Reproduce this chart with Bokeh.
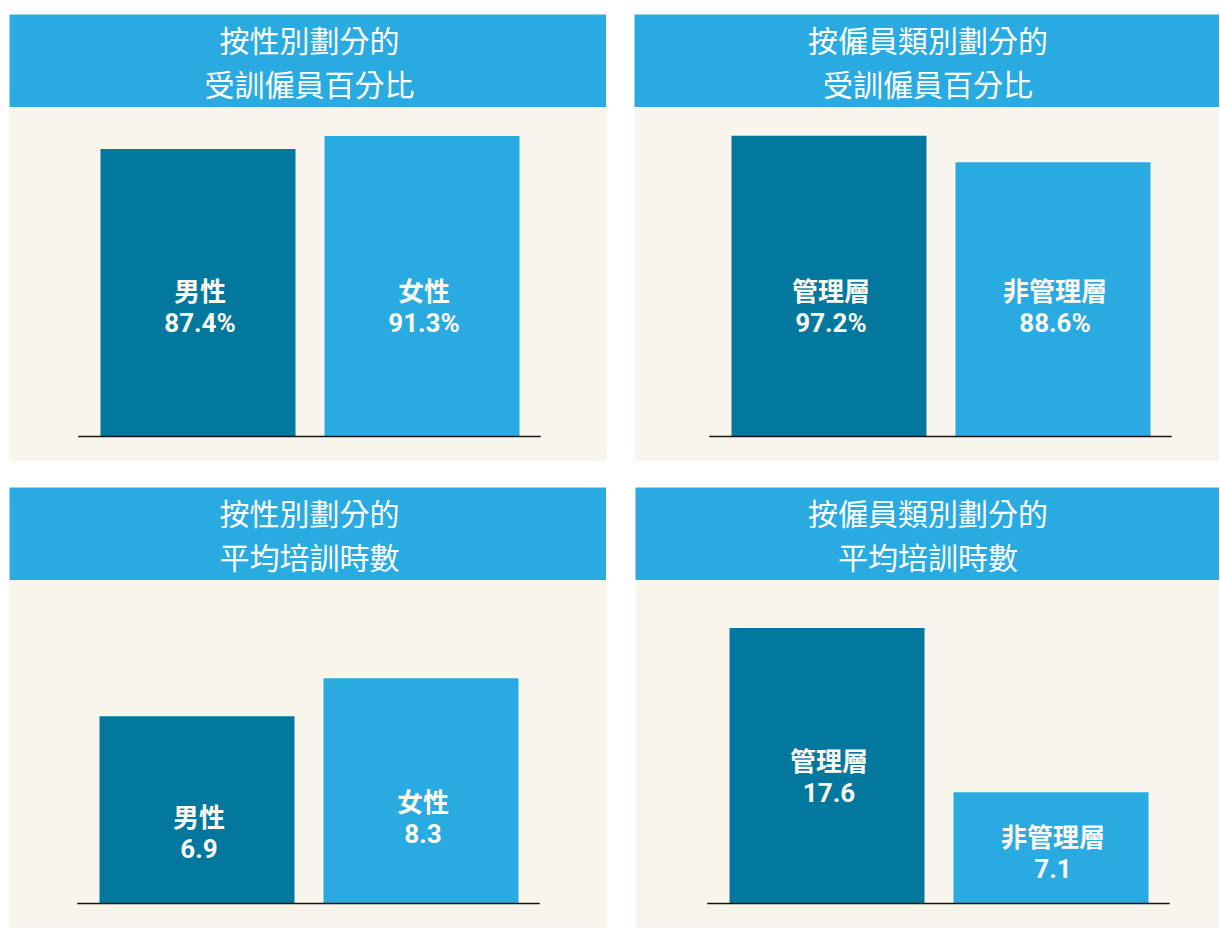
from bokeh.plotting import figure
from bokeh.layouts import column, row
from bokeh.models import Range1d, ColumnDataSource, Spacer
from bokeh.core.properties import value
from bokeh.embed import file_html
from bokeh.resources import INLINE

# ---------------- data ----------------
title_pct_gender = ["按性別劃分的", "受訓僱員百分比"]
title_pct_grade = ["按僱員類別劃分的", "受訓僱員百分比"]
title_hrs_gender = ["按性別劃分的", "平均培訓時數"]
title_hrs_grade = ["按僱員類別劃分的", "平均培訓時數"]

gender_cats = ["男性", "女性"]
grade_cats = ["管理層", "非管理層"]

pct_gender = [87.4, 91.3]
pct_grade = [97.2, 88.6]
hours_gender = [6.9, 8.3]
hours_grade = [17.6, 7.1]

# ---------------- style ----------------
BLUE = "#29ABE2"
DARK = "#02789E"
CREAM = "#F8F6EC"
BAR_COLORS = [DARK, BLUE]
LABEL_COLOR = "#FAF8F1"
CJK = "Noto Sans CJK TC"
NUM = "Roboto"
SPACING = 224.0  # px between bar centres


def header(lines, w, h, cx):
    p = figure(width=w, height=h, x_range=Range1d(0, w), y_range=Range1d(0, h),
               toolbar_location=None, output_backend="svg", min_border=0,
               x_axis_location=None, y_axis_location=None,
               background_fill_color=BLUE, border_fill_color=BLUE,
               outline_line_color=None)
    p.grid.visible = False
    p.text(x=[cx, cx], y=[h / 2 + 22, h / 2 - 22], text=lines,
           text_font=value(CJK), text_font_size="30px", text_color="white",
           text_align="center", text_baseline="middle")
    return p


def chart(cats, vals, fmt, w, h, c0, k, base_px, frac=None, fixed_px=None):
    xs = list(range(len(cats)))
    p = figure(width=w, height=h,
               x_range=Range1d(-c0 / SPACING, (w - c0) / SPACING),
               y_range=Range1d(-base_px / k, (h - base_px) / k),
               toolbar_location=None, output_backend="svg", min_border=0,
               x_axis_location=None, y_axis_location=None,
               background_fill_color=CREAM, border_fill_color=CREAM,
               outline_line_color=None)
    p.grid.visible = False
    if fixed_px is not None:
        mids = [fixed_px / k for _ in vals]
    else:
        mids = [v * frac for v in vals]
    src = ColumnDataSource(dict(
        x=xs, top=vals, color=BAR_COLORS[:len(vals)], cat=cats,
        lab=[fmt.format(v) for v in vals],
        yc=[m + 17.0 / k for m in mids],
        yv=[m - 16.0 / k for m in mids],
    ))
    p.vbar(x="x", top="top", bottom=0, width=195.0 / SPACING,
           fill_color="color", line_color=None, source=src)
    p.segment(x0=[-0.535], y0=[0], x1=[len(cats) - 1 + 0.53], y1=[0],
              line_color="#141414", line_width=1.6)
    p.text(x="x", y="yc", text="cat", source=src, text_font=value(CJK),
           text_font_style="bold", text_font_size="26px", text_color=LABEL_COLOR,
           text_align="center", text_baseline="middle", x_offset=2)
    p.text(x="x", y="yv", text="lab", source=src, text_font=value(NUM),
           text_font_style="bold", text_font_size="26px", text_color=LABEL_COLOR,
           text_align="center", text_baseline="middle", x_offset=2)
    return p


W_L, W_R = 597, 585
H_HEAD = 93
H_TOP, H_BOT = 354, 348

p1 = column(header(title_pct_gender, W_L, H_HEAD, 300),
            chart(gender_cats, pct_gender, "{:.1f}%", W_L, H_TOP, 188.5, 3.29, 25, fixed_px=130))
p2 = column(header(title_pct_grade, W_R, H_HEAD, 293.5),
            chart(grade_cats, pct_grade, "{:.1f}%", W_R, H_TOP, 194.5, 3.095, 25, fixed_px=130))
p3 = column(header(title_hrs_gender, W_L, H_HEAD, 300),
            chart(gender_cats, hours_gender, "{:.1f}", W_L, H_BOT, 187.5, 27.15, 25, frac=0.38))
p4 = column(header(title_hrs_grade, W_R - 1, H_HEAD, 292.5),
            chart(grade_cats, hours_grade, "{:.1f}", W_R - 1, H_BOT, 191.5, 15.66, 25, frac=0.46))

layout = column(
    Spacer(width=10, height=14),
    row(Spacer(width=9, height=10), p1, Spacer(width=28, height=10), p2),
    Spacer(width=10, height=26),
    row(Spacer(width=9, height=10), p3, Spacer(width=29, height=10), p4),
)

open("out.html", "w").write(file_html(layout, INLINE))
